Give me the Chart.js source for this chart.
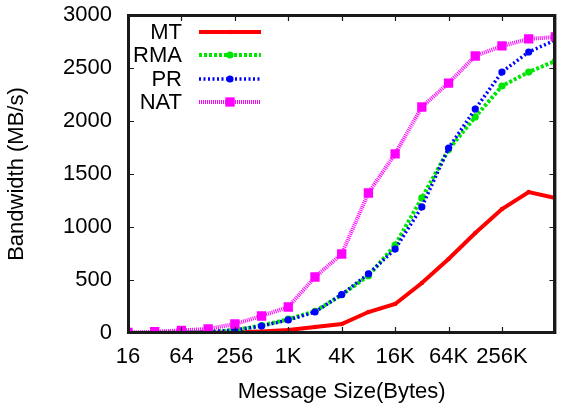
<!DOCTYPE html>
<html>
<head>
<meta charset="utf-8">
<script src="https://cdn.jsdelivr.net/npm/chart.js@4"></script>
<style>
html,body{margin:0;padding:0;background:#fff;}
#wrap{position:relative;width:562px;height:409px;}
#frame{position:absolute;box-sizing:border-box;border:2px solid #1a1a1a;pointer-events:none;}
</style>
</head>
<body>
<div id="wrap"><canvas id="c" width="562" height="409"></canvas><div id="frame"></div></div>
<script>
const sizes = [16,32,64,128,256,512,1024,2048,4096,8192,16384,32768,65536,131072,262144,524288,1048576];
const mt  = [1,1,2,3,6,15,28,57,85,198,274,472,698,943,1170,1330,1274];
const rma = [2,4,6,10,28,70,130,205,360,540,830,1274,1730,2038,2330,2462,2566];
const pr  = [2,4,6,10,28,66,123,198,363,557,792,1189,1745,2113,2462,2651,2764];
const nat = [5,12,25,38,85,160,245,528,745,1321,1690,2132,2358,2613,2708,2774,2793];
const seriesNames = ['MT','RMA','PR','NAT'];
const xTickValues = [16,64,256,1024,4096,16384,65536,262144];
const xTickLabels = ['16','64','256','1K','4K','16K','64K','256K'];
const yTickValues = [0,500,1000,1500,2000,2500,3000];

const FONT = "'Liberation Sans', Arial, Helvetica, sans-serif";
const pts = arr => sizes.map((s,i)=>({x:s,y:arr[i]}));

const styles = [
  {color:'#ff0000', dash:[], width:4, pstyle:'circle', r:2.2},
  {color:'#00e600', dash:[3,2], width:4, pstyle:'circle', r:3.6},
  {color:'#0000ff', dash:[2,2.5], width:3.5, pstyle:'circle', r:3.6},
  {color:'#ff00ff', dash:[1,1], width:4, pstyle:'rect', r:6.6}
];
const dataArrs = [mt, rma, pr, nat];

const datasets = dataArrs.map((arr,i)=>({
  label: seriesNames[i],
  data: pts(arr),
  xAxisID: 'x', yAxisID: 'y',
  borderColor: styles[i].color,
  backgroundColor: styles[i].color,
  borderWidth: styles[i].width,
  borderDash: styles[i].dash,
  pointStyle: styles[i].pstyle,
  pointRadius: styles[i].r,
  pointBorderWidth: 0,
  pointBackgroundColor: styles[i].color,
  tension: 0,
  order: 4 - i
}));

function drawFrame(chart, lw){
  const ctx = chart.ctx, a = chart.chartArea;
  const xs = chart.scales.x, ys = chart.scales.y;
  ctx.save();
  ctx.setLineDash([]);
  ctx.strokeStyle = '#1a1a1a';
  ctx.lineWidth = lw;
  ctx.beginPath();
  ctx.moveTo(a.left, a.top); ctx.lineTo(a.right, a.top); ctx.lineTo(a.right, a.bottom); ctx.lineTo(a.left, a.bottom); ctx.closePath();
  ctx.stroke();
  ctx.lineWidth = 1.2;
  ctx.beginPath();
  xTickValues.forEach(v=>{
    const px = Math.round(xs.getPixelForValue(v)) + 0.5;
    ctx.moveTo(px, a.bottom); ctx.lineTo(px, a.bottom - 6);
    ctx.moveTo(px, a.top); ctx.lineTo(px, a.top + 6);
  });
  yTickValues.forEach(v=>{
    const py = Math.round(ys.getPixelForValue(v)) + 0.5;
    ctx.moveTo(a.left, py); ctx.lineTo(a.left + 6, py);
    ctx.moveTo(a.right, py); ctx.lineTo(a.right - 6, py);
  });
  ctx.stroke();
  ctx.restore();
}

const framePlugin = {
  id: 'gpFrame',
  afterDraw(chart){
    drawFrame(chart, 2);
    const ctx = chart.ctx, a = chart.chartArea;
    const L = Math.round(a.left), T = Math.round(a.top);
    ctx.save();
    const rowY0 = T + 17, rowH = 23.4;
    const textRight = L + 54, lineL = L + 71, lineR = L + 133;
    ctx.font = '22px ' + FONT;
    ctx.textAlign = 'right';
    ctx.textBaseline = 'middle';
    chart.data.datasets.forEach((ds,i)=>{
      const y = Math.round(rowY0 + i*rowH);
      ctx.fillStyle = '#000';
      ctx.fillText(ds.label, textRight, y+1);
      ctx.save();
      ctx.strokeStyle = ds.borderColor;
      ctx.lineWidth = ds.borderWidth;
      ctx.setLineDash(ds.borderDash);
      ctx.beginPath(); ctx.moveTo(lineL, y); ctx.lineTo(lineR, y); ctx.stroke();
      ctx.restore();
      ctx.save();
      ctx.fillStyle = ds.borderColor;
      ctx.strokeStyle = ds.borderColor;
      Chart.helpers.drawPoint(ctx, {pointStyle: ds.pointStyle, radius: ds.pointRadius, rotation:0, borderWidth:0}, (lineL+lineR)/2, y);
      ctx.restore();
    });
    ctx.restore();
  }
};

const xTicksHook = s => { s.ticks = xTickValues.map(v=>({value:v})); };
const yTicksHook = s => { s.ticks = yTickValues.map(v=>({value:v})); };

const chart = new Chart(document.getElementById('c'), {
  type: 'line',
  data: { datasets },
  plugins: [framePlugin],
  options: {
    responsive: false,
    animation: false,
    events: [],
    layout: { padding: { top: 15, right: 2, left: 0, bottom: 0 } },
    plugins: { legend: { display: false }, tooltip: { enabled: false } },
    scales: {
      x: {
        type: 'logarithmic', position: 'bottom',
        min: 16, max: 1048576,
        afterBuildTicks: xTicksHook,
        afterFit: s => { s.height = 76; s.paddingLeft = 0; s.paddingRight = 0; },
        grid: { display: false, drawTicks: false },
        border: { display: false },
        ticks: {
          autoSkip: false, maxRotation: 0, padding: 11, color: '#000',
          font: { family: FONT, size: 22 },
          callback: (v) => { const i = xTickValues.indexOf(v); return i >= 0 ? xTickLabels[i] : ''; }
        },
        title: { display: true, text: 'Message Size(Bytes)', color: '#000', font: { family: FONT, size: 22 }, padding: {top: 0, bottom: 4} }
      },
      y: {
        type: 'linear', position: 'left',
        min: 0, max: 3000,
        afterBuildTicks: yTicksHook,
        afterFit: s => { s.width = 128; s.paddingTop = 0; s.paddingBottom = 0; },
        grid: { display: false, drawTicks: false },
        border: { display: false },
        ticks: { padding: 16, color: '#000', font: { family: FONT, size: 22 }, callback: v => String(v) },
        title: { display: true, text: 'Bandwidth (MB/s)', color: '#000', font: { family: FONT, size: 22 }, padding: {top: 4, bottom: 0} }
      }
    }
  }
});

const ca = chart.chartArea;
const fr = document.getElementById('frame');
fr.style.left = Math.round(ca.left) + 'px';
fr.style.top = Math.round(ca.top) + 'px';
fr.style.width = Math.round(ca.right - ca.left) + 'px';
fr.style.height = Math.round(ca.bottom - ca.top) + 'px';
</script>
</body>
</html>
